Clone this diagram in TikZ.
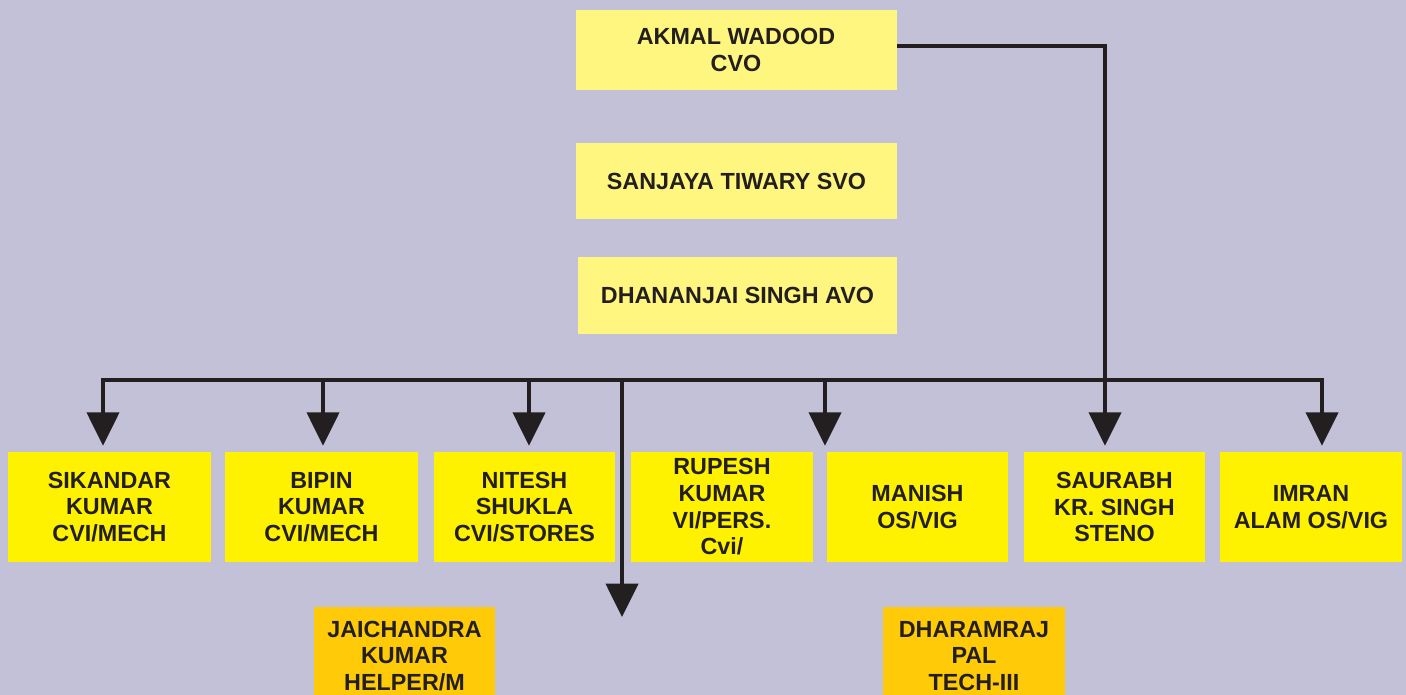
\documentclass[tikz,border=0pt]{standalone}
\usepackage{fontspec}
\setmainfont{Liberation Sans}
\usetikzlibrary{arrows.meta,calc}
\definecolor{bg}{HTML}{C3C1D7}
\definecolor{paleY}{HTML}{FFF680}
\definecolor{brightY}{HTML}{FFF200}
\definecolor{orangeY}{HTML}{FFCA08}
\definecolor{ink}{HTML}{231F20}
\tikzset{
  box/.style={inner sep=0pt, align=center, text=ink,
    font=\bfseries\fontsize{17.5}{20}\selectfont},
  topbox/.style={box, fill=paleY, minimum width=240.75pt, minimum height=57pt},
  staff/.style={box, fill=brightY, minimum height=82.5pt},
  extra/.style={box, fill=orangeY, minimum width=136pt, minimum height=73.5pt},
  conn/.style={draw=ink, line width=3pt, line join=miter},
  tipped/.style={conn, -{Triangle[width=24pt,length=25pt]}},
  twotipped/.style={conn, {Triangle[width=24pt,length=25pt]}-{Triangle[width=24pt,length=25pt]}}
}
\begin{document}
\begin{tikzpicture}[x=0.75pt,y=-0.75pt]
\clip (0,0) rectangle (1406,695);
\fill[bg] (0,0) rectangle (1406,695);

% top boxes
\node[topbox, minimum height=60pt] (cvo) at (736,50) {AKMAL WADOOD\\CVO};
\node[topbox] (svo) at (736.5,181.5) {SANJAYA TIWARY SVO};
\node[topbox, minimum width=239.25pt] (avo) at (737.5,295.5) {DHANANJAI SINGH AVO};

% staff boxes
\node[staff, minimum width=152.25pt] (sikandar) at (109.5,507) {SIKANDAR\\KUMAR\\CVI/MECH};
\node[staff, minimum width=144.75pt] (bipin) at (321.5,507) {BIPIN\\KUMAR\\CVI/MECH};
\node[staff, minimum width=135.75pt] (nitesh) at (524.5,507) {NITESH\\SHUKLA\\CVI/STORES};
\node[staff, minimum width=136.5pt] (rupesh) at (722,507) {RUPESH\\KUMAR\\VI/PERS.\\Cvi/};
\node[staff, minimum width=135.75pt] (manish) at (917.5,507) {MANISH\\OS/VIG};
\node[staff, minimum width=135.75pt] (saurabh) at (1114.5,507) {SAURABH\\KR. SINGH\\STENO};
\node[staff, minimum width=136.5pt] (imran) at (1311,507) {IMRAN\\ALAM OS/VIG};

% extra boxes
\node[extra] (jai) at (404.5,656) {JAICHANDRA\\KUMAR\\HELPER/M};
\node[extra] (dharam) at (974,656) {DHARAMRAJ\\PAL\\TECH-III};

% coordinates
\coordinate (barL) at (103,380);
\coordinate (barR) at (1322,380);
\coordinate (xb) at (323,0);
\coordinate (xn) at (529,0);
\coordinate (xm) at (825,0);
\coordinate (xs) at (1105,0);
\coordinate (drop) at (622,380);
\coordinate (dropEnd) at (622,617);

% connectors
\draw[tipped] ([yshift=3pt]cvo.east) -| ($(xs |- saurabh.north)+(0,-6)$);
\draw[twotipped] ($(barL |- sikandar.north)+(0,-6)$) |- (barR) -- ($(barR |- imran.north)+(0,-6)$);
\draw[tipped] (xb |- barL) -- ($(xb |- bipin.north)+(0,-6)$);
\draw[tipped] (xn |- barL) -- ($(xn |- nitesh.north)+(0,-6)$);
\draw[tipped] (xm |- barL) -- ($(xm |- manish.north)+(0,-6)$);
\draw[tipped] (drop) -- (dropEnd);
\end{tikzpicture}
\end{document}
